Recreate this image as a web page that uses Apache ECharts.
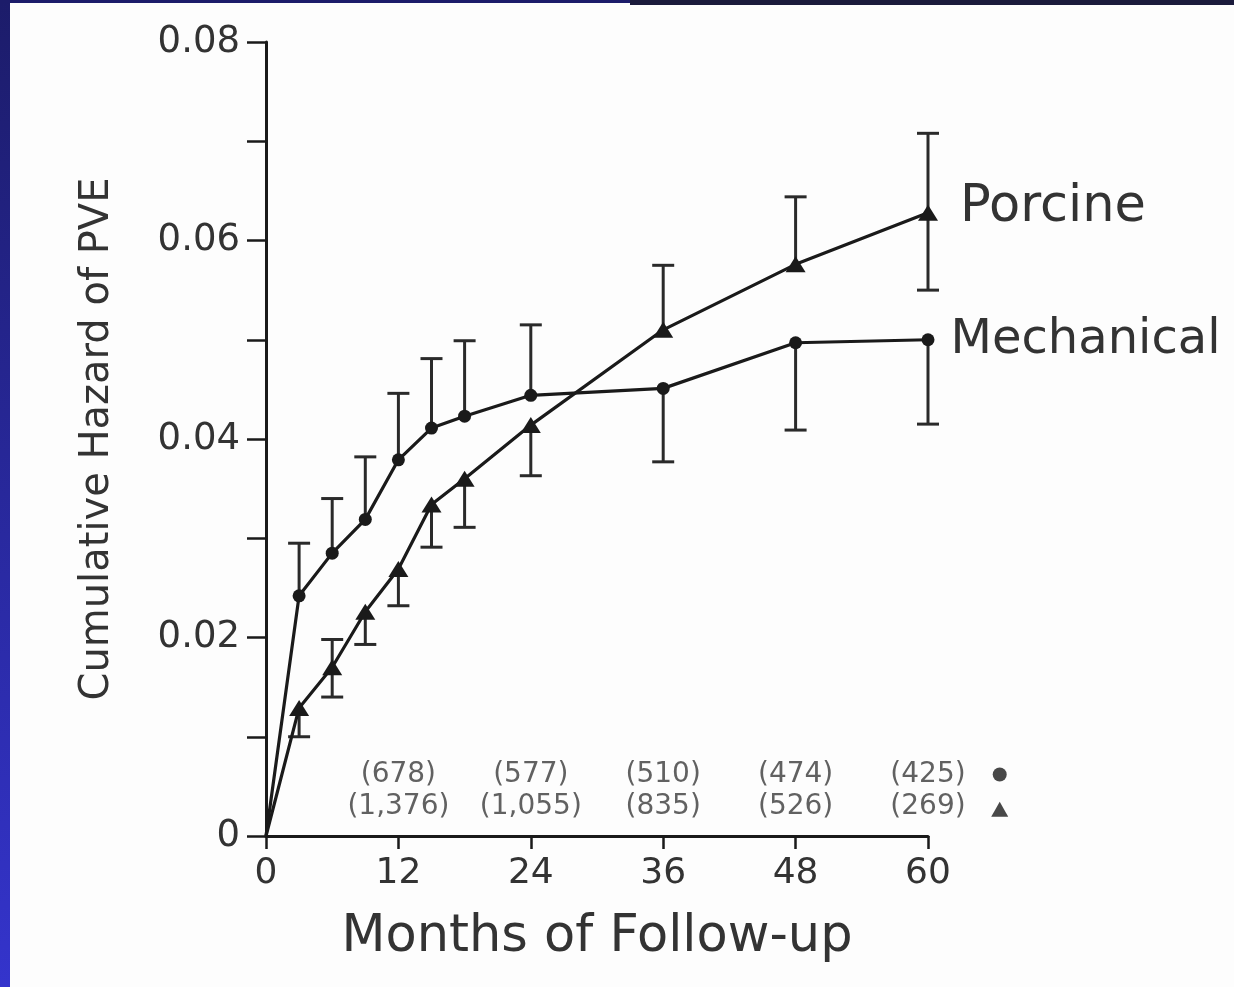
<!DOCTYPE html>
<html>
<head>
<meta charset="utf-8">
<title>Cumulative Hazard of PVE</title>
<script src="https://cdn.jsdelivr.net/npm/echarts@6/dist/echarts.min.js"></script>
<style>
  html, body { margin: 0; padding: 0; background: #fdfdfd; }
  #chart { width: 1234px; height: 987px; }
</style>
</head>
<body>
<div id="chart"></div>
<script>
// months of follow-up where the estimates were plotted
var months = [3, 6, 9, 12, 15, 18, 24, 36, 48, 60];

// cumulative hazard, mechanical valves (circles)
var mechanical = [0.0242, 0.0285, 0.0319, 0.0379, 0.0411, 0.0423, 0.0444, 0.0451, 0.0497, 0.0500];
var mechanicalUpper = [0.0295, 0.0340, 0.0382, 0.0446, 0.0481, 0.0499, 0.0515, null, null, null];
var mechanicalLower = [null, null, null, null, null, null, null, 0.0377, 0.0409, 0.0415];

// cumulative hazard, porcine valves (triangles)
var porcine = [0.0129, 0.0170, 0.0226, 0.0269, 0.0334, 0.0360, 0.0414, 0.0510, 0.0576, 0.0628];
var porcineUpper = [null, 0.0198, null, null, null, null, null, 0.0575, 0.0644, 0.0708];
var porcineLower = [0.0100, 0.0140, 0.0193, 0.0232, 0.0291, 0.0311, 0.0363, null, null, 0.0550];

// patients at risk
var riskMonths = [12, 24, 36, 48, 60];
var mechanicalAtRisk = ['(678)', '(577)', '(510)', '(474)', '(425)'];
var porcineAtRisk = ['(1,376)', '(1,055)', '(835)', '(526)', '(269)'];

var xTicks = [0, 12, 24, 36, 48, 60];
var yLabels = ['0', '0.02', '0.04', '0.06', '0.08'];

var ink = '#1a1a1a';
var font = 'DejaVu Sans';

function lineData(vals, labelOpt) {
  var d = [{ value: [0, 0], symbol: 'none' }];
  for (var i = 0; i < months.length; i++) d.push([months[i], vals[i]]);
  var last = d.length - 1;
  d[last] = { value: d[last], label: labelOpt };
  return d;
}

function barData(vals, lo, hi) {
  return months.map(function (m, i) {
    return [m, vals[i], lo[i] == null ? vals[i] : lo[i], hi[i] == null ? vals[i] : hi[i]];
  });
}

function renderBar(params, api) {
  var x = api.value(0), v = api.value(1), lo = api.value(2), hi = api.value(3);
  var p = api.coord([x, v]);
  var pl = api.coord([x, lo]);
  var ph = api.coord([x, hi]);
  var w = 11;
  var st = { stroke: '#2a2a2a', lineWidth: 3 };
  var kids = [{ type: 'line', shape: { x1: p[0], y1: pl[1], x2: p[0], y2: ph[1] }, style: st }];
  if (hi > v) kids.push({ type: 'line', shape: { x1: p[0] - w, y1: ph[1], x2: p[0] + w, y2: ph[1] }, style: st });
  if (lo < v) kids.push({ type: 'line', shape: { x1: p[0] - w, y1: pl[1], x2: p[0] + w, y2: pl[1] }, style: st });
  return { type: 'group', children: kids };
}

var riskRows = [];
riskMonths.forEach(function (m, i) {
  riskRows.push({ value: [m, 0.0062], label: { formatter: mechanicalAtRisk[i] } });
  riskRows.push({ value: [m, 0.0029], label: { formatter: porcineAtRisk[i] } });
});

var chart = echarts.init(document.getElementById('chart'));
chart.setOption({
  backgroundColor: '#fdfdfd',
  animation: false,
  grid: { left: 266, top: 42, right: 306, bottom: 151 },
  xAxis: {
    type: 'value', min: 0, max: 60, interval: 12,
    name: 'Months of Follow-up', nameLocation: 'middle', nameGap: 76,
    nameTextStyle: { fontFamily: font, fontSize: 51, color: '#333' },
    axisLine: { lineStyle: { color: ink, width: 3 } },
    axisTick: { length: 13, lineStyle: { color: ink, width: 2.5 } },
    axisLabel: {
      fontFamily: font, fontSize: 36, color: '#333', margin: 20,
      formatter: function (v) { return xTicks.indexOf(v) >= 0 ? String(v) : ''; }
    },
    splitLine: { show: false }
  },
  yAxis: {
    type: 'value', min: 0, max: 0.08, interval: 0.01,
    name: 'Cumulative Hazard of PVE', nameLocation: 'middle', nameGap: 148,
    nameTextStyle: { fontFamily: font, fontSize: 40, color: '#333' },
    axisLine: { lineStyle: { color: ink, width: 3 } },
    axisTick: { length: 19, lineStyle: { color: ink, width: 2.5 } },
    axisLabel: {
      fontFamily: font, fontSize: 37, color: '#333', margin: 26,
      formatter: function (v, i) { return i % 2 === 0 ? yLabels[i / 2] : ''; }
    },
    splitLine: { show: false }
  },
  graphic: [
    { type: 'rect', left: 0, top: 0, shape: { width: 10, height: 987 },
      style: { fill: new echarts.graphic.LinearGradient(0, 0, 0, 1, [
        { offset: 0, color: '#1c1c6a' }, { offset: 1, color: '#3434cc' }]) } },
    { type: 'rect', left: 0, top: 0, shape: { width: 630, height: 3 }, style: { fill: '#1c1c6a' } },
    { type: 'rect', left: 630, top: 0, shape: { width: 604, height: 5 }, style: { fill: '#1b1b3c' } }
  ],
  series: [
    {
      type: 'custom', z: 1, renderItem: renderBar,
      data: barData(mechanical, mechanicalLower, mechanicalUpper)
    },
    {
      type: 'custom', z: 1, renderItem: renderBar,
      data: barData(porcine, porcineLower, porcineUpper)
    },
    {
      name: 'Mechanical', type: 'line', z: 3,
      symbol: 'circle', symbolSize: 13,
      lineStyle: { color: ink, width: 3.2 }, itemStyle: { color: ink },
      data: lineData(mechanical, {
        show: true, formatter: 'Mechanical', position: 'right', distance: 16, offset: [0, 1],
        fontFamily: font, fontSize: 48, color: '#333'
      })
    },
    {
      name: 'Porcine', type: 'line', z: 3,
      symbol: 'triangle', symbolSize: [20, 16],
      lineStyle: { color: ink, width: 3.2 }, itemStyle: { color: ink },
      data: lineData(porcine, {
        show: true, formatter: 'Porcine', position: 'right', distance: 22, offset: [0, -5],
        fontFamily: font, fontSize: 51, color: '#333'
      })
    },
    {
      type: 'scatter', z: 4, clip: false, silent: true,
      symbolSize: 1, itemStyle: { color: 'rgba(0,0,0,0)' },
      label: { show: true, position: 'inside', fontFamily: font, fontSize: 28, color: '#3a3a3a' },
      data: riskRows
    },
    {
      type: 'scatter', z: 4, clip: false, silent: true,
      itemStyle: { color: ink },
      data: [
        { value: [66.5, 0.0062], symbol: 'circle', symbolSize: 14 },
        { value: [66.5, 0.0027], symbol: 'triangle', symbolSize: [17, 15] }
      ]
    }
  ]
});
</script>
</body>
</html>
